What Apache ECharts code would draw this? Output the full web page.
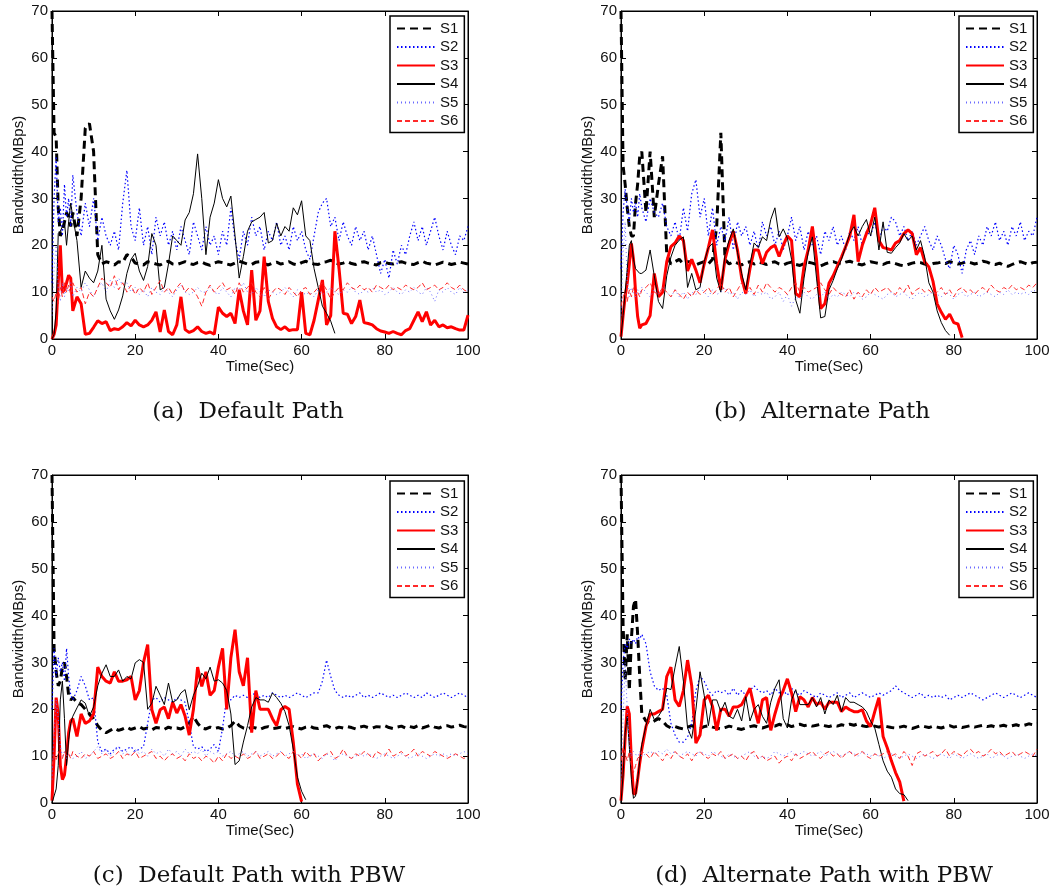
<!DOCTYPE html>
<html>
<head>
<meta charset="utf-8">
<script src="https://cdn.jsdelivr.net/npm/echarts@6/dist/echarts.min.js"></script>
<style>
  html, body { margin: 0; padding: 0; background: #fff; }
  #chart { width: 1056px; height: 896px; }
</style>
</head>
<body>
<div id="chart"></div>
<script>
// sample times (sec): half-second steps up to 5 s, then one per second
const T = [0, 0.5, 1, 1.5, 2, 2.5, 3, 3.5, 4, 4.5, 5,
  6, 7, 8, 9, 10, 11, 12, 13, 14, 15,
  16, 17, 18, 19, 20, 21, 22, 23, 24, 25,
  26, 27, 28, 29, 30, 31, 32, 33, 34, 35,
  36, 37, 38, 39, 40, 41, 42, 43, 44, 45,
  46, 47, 48, 49, 50, 51, 52, 53, 54, 55,
  56, 57, 58, 59, 60, 61, 62, 63, 64, 65,
  66, 67, 68, 69, 70, 71, 72, 73, 74, 75,
  76, 77, 78, 79, 80, 81, 82, 83, 84, 85,
  86, 87, 88, 89, 90, 91, 92, 93, 94, 95,
  96, 97, 98, 99, 100];

const seriesNames = ['S1', 'S2', 'S3', 'S4', 'S5', 'S6'];
const xTicks = [0, 20, 40, 60, 80, 100];
const yTicks = [0, 10, 20, 30, 40, 50, 60, 70];

// ---- (a) Default Path ----
const A_S1 = [70, 44, 43, 28, 22, 23, 25, 27, 26, 24, 27,
  22, 30, 45, 46, 40, 18, 16, 16.5, 16.2, 15.8,
  16.5, 16.3, 18, 17.5, 16.2, 16, 15.8, 16.5, 16.3, 16,
  15.8, 16.3, 16.6, 16, 15.9, 16.2, 16.5, 16.1, 15.9, 16.3,
  16.4, 16, 15.7, 16.2, 16.5, 16.3, 16, 15.8, 16.2, 16.6,
  16.3, 16, 15.9, 16.4, 16.5, 16.1, 15.8, 16.2, 16.4, 16,
  16.2, 16.5, 16, 15.8, 16.3, 16.6, 16.2, 16, 15.9, 16.4,
  16.5, 16.8, 16.3, 16, 16.2, 16.5, 16.1, 15.9, 16.3, 16.5,
  16.2, 16, 15.8, 16.3, 16.4, 16.1, 16, 16.3, 16.5, 16.2,
  16, 15.9, 16.3, 16.6, 16.2, 16, 15.8, 16.1, 16.4, 16.2,
  15.9, 16.1, 16.4, 16.2, 16];
const A_S2 = [12, 30, 39, 25, 28, 22, 33, 26, 30, 24, 35,
  27, 22, 29, 24, 30, 21, 26, 22, 20, 23,
  19, 29, 36, 24, 21, 28, 20, 24, 18, 26,
  22, 25, 20, 23, 19, 24, 21, 18, 25, 22,
  19, 24, 20, 22, 18, 23, 20, 28, 21, 17,
  23, 20, 26, 22, 24, 19, 23, 21, 25, 20,
  22, 19, 24, 21, 23, 19, 17, 22, 27, 29,
  30, 24, 26, 21, 25, 22, 20, 24, 21, 23,
  19, 22, 18, 14, 17, 13, 19, 16, 20, 18,
  22, 25, 21, 24, 20, 23, 26, 22, 19, 23,
  20, 18, 22, 21, 24];
const A_S3 = [0, 1, 3, 12, 20, 10, 10.5, 12, 13.6, 13, 6,
  9, 7.5, 1, 1.2, 2.5, 3.9, 3.3, 3.7, 1.8, 2.2,
  2, 2.6, 3.5, 2.8, 4, 3, 2.6, 3, 4, 5.8,
  1.5, 6.2, 1.6, 0.9, 3, 9, 2, 1.4, 1.8, 2.6,
  1.6, 1.2, 1.5, 1, 6.8, 5.5, 4.8, 5.5, 3.3, 10.5,
  6, 3, 14.7, 4, 6, 17.6, 8, 4.4, 2.6, 2,
  2.6, 1.8, 2, 2, 10, 1.2, 0.9, 4, 8.3, 12.6,
  3, 5, 23, 15, 5.5, 5.3, 3.3, 4.8, 8.3, 3.5,
  3.3, 3, 2.2, 1.7, 1.5, 1.2, 1.6, 1.2, 0.9, 1.8,
  2.2, 4, 5.8, 3.7, 5.8, 3, 4, 2.6, 3, 2.4,
  2.6, 2.2, 1.9, 1.9, 5.1];
const A_S4 = [0, 1, 6, 22.5, 23, 24, 25, 20, 25, 29, 26,
  21, 11, 14.5, 13, 12, 14.5, 20, 8.5, 6, 4.2,
  6.2, 9.2, 14, 17, 18.3, 14.5, 12.5, 15.5, 22.5, 20,
  10.5, 11, 16, 22, 21, 20, 25.4, 27, 31, 39.5,
  30, 18, 26, 29, 34, 30, 28.2, 30.5, 22, 13,
  17.6, 23, 25, 25.5, 26, 27, 20.5, 21, 24.7, 22,
  24, 23, 28, 26.5, 29.5, 22, 21, 15, 11, 7,
  5.5, 3.8, 1.2];
const A_S5 = [5, 15, 20, 11, 8, 12, 9, 11, 10, 12, 9,
  11, 10, 12, 10.5, 9, 11, 12, 10, 12.5, 11,
  13, 11.5, 12, 10, 11, 9.5, 10.5, 9, 11, 10,
  9.5, 11, 10, 9, 10.5, 11.5, 10, 9.5, 10, 11,
  10, 10, 11, 10, 9.5, 11, 10, 9, 11, 10.5,
  12, 10, 9.5, 11, 10, 9, 10.5, 10, 9.5, 10,
  11, 10, 9, 10.5, 10, 9.5, 10, 9, 10.5, 9.5,
  10, 11, 10, 9.5, 10.5, 10, 11, 10, 9.5, 10.5,
  10, 11, 10, 10.5, 9.5, 10, 11, 10, 9.5, 10.5,
  10, 11, 10, 9.5, 11, 10, 8, 10.5, 10, 11,
  10, 9.5, 11, 10, 10.5];
const A_S6 = [9, 8, 10, 7.5, 11, 9, 12, 10, 11.5, 9.5, 12,
  10, 11, 7.5, 10, 9, 11, 13, 12, 11, 13.5,
  10.5, 12, 10, 11.5, 9.5, 11, 10, 12, 9.5, 11,
  12.5, 10, 11, 9.5, 11, 12, 10, 11, 10.5, 9,
  7, 10, 11.5, 10, 11, 12, 10.5, 11, 9.5, 12,
  10, 11, 12, 10, 9, 11, 8.5, 10, 11, 10.5,
  9.5, 11, 10, 9, 10.5, 11, 9.5, 10, 11, 12,
  10.5, 8.5, 10, 11, 10.5, 12, 11, 10.5, 11.5, 10.5,
  11, 10, 11.5, 11, 10.5, 11.5, 10.5, 11, 10.5, 11.5,
  11, 10.5, 11, 12, 10.5, 11, 11.5, 10.5, 11, 12,
  11, 10.5, 11.5, 10.5, 10];

// ---- (b) Alternate Path ----
const B_S1 = [70, 37, 33, 28, 24, 22, 22, 29, 33, 39, 40,
  27, 40, 26, 33, 39, 18, 16, 16.5, 17, 16,
  16.5, 16.5, 15.8, 16.2, 16.5, 16, 17, 24, 44, 17,
  16, 16.5, 16.2, 15.8, 16.3, 16.5, 16, 16.4, 16.2, 15.9,
  16.3, 16.5, 16, 15.8, 16.2, 16.4, 15.9, 15.7, 16.1, 16.4,
  16.2, 15.9, 15.6, 16, 16.3, 16.5, 16.2, 16, 16.4, 16.6,
  16.3, 16, 15.8, 16.2, 16.5, 16.3, 16.1, 15.9, 16.3, 16.4,
  16.1, 15.8, 15.6, 15.9, 16.2, 16.4, 16.3, 16, 15.8, 16.1,
  16.2, 16.4, 16.1, 16.5, 16.3, 16, 16.2, 16.5, 16.3, 16,
  16.2, 16.6, 16.4, 16, 15.9, 16.2, 15.7, 15.5, 15.9, 16.3,
  16.5, 16.2, 15.9, 16.3, 16.4];
const B_S2 = [15, 27, 32, 28, 25, 30, 27, 29, 26, 31, 28,
  25, 30, 27, 26, 29, 24, 22, 25, 21, 28,
  23, 31, 34, 26, 30, 22, 28, 20, 24, 21,
  26, 19, 25, 22, 24, 20, 23, 19, 25, 22,
  24, 20, 23, 19, 22, 26, 21, 24, 19, 23,
  20, 22, 18, 23, 21, 24, 20, 22, 19, 23,
  21, 24, 20, 23, 22, 25, 21, 24, 23, 26,
  25, 22, 24, 21, 23, 20, 22, 24, 21, 19,
  22, 20, 17, 15, 20, 18, 14, 19, 21, 18,
  22, 20, 24, 22, 25, 21, 23, 20, 24, 22,
  25, 21, 23, 22, 26];
const B_S3 = [0.5, 5, 9, 12, 16, 20.4, 17, 10, 4.8, 2.3, 3,
  3.3, 5, 14, 9, 10, 16.5, 19.7, 20.5, 22, 21,
  14.5, 17, 14.7, 12, 16, 19.5, 23.3, 16, 10.5, 17,
  20.4, 23, 19, 13, 9.7, 15, 19, 19, 16.1, 18.5,
  19.5, 20, 17.6, 20, 22, 21, 9.7, 9, 15.5, 19,
  24, 17, 6.5, 7.5, 11.9, 13.5, 15.5, 17.5, 19.7, 22,
  26.5, 16.5, 20, 22.5, 24.5, 28, 21, 19.5, 19.3, 19,
  20.5, 21, 22.5, 23.3, 22.5, 18, 19.5, 16.5, 15.4, 12.3,
  7.5, 5.7, 4.2, 5.3, 3.5, 3.2, 0.3];
const B_S4 = [0.5, 5, 10, 15, 20, 21, 17, 15, 14.5, 14, 14,
  14.7, 19, 13.5, 8, 6.5, 13.5, 17.5, 20, 21.1, 21.8,
  11, 14, 10.5, 11, 16.5, 19.5, 20.4, 13, 10, 18,
  21.1, 23.5, 18.5, 14, 10.5, 16, 20.5, 19.5, 21.8, 21,
  25.5, 28, 21.8, 23.5, 21.5, 17, 8.3, 5.5, 13, 18.5,
  21.8, 13, 4.5, 4.8, 10.5, 12.5, 15, 17, 19.7, 22.5,
  24, 22, 24, 25.5, 22, 26, 19, 25, 18.5, 18.3,
  19.5, 20.5, 22.5, 21, 22, 19, 21, 17.5, 12, 10,
  6, 3.5, 1.8, 0.8];
const B_S5 = [5, 18, 25, 12, 9, 11, 10, 9, 10.5, 9.5, 11,
  10, 9, 10.5, 9.5, 11, 10, 9, 10.5, 9, 10,
  8.5, 10, 9.5, 11, 10, 9, 10.5, 9.5, 10, 11,
  9.5, 10, 8.5, 10, 9.5, 10.5, 9, 10, 9.5, 10,
  8.5, 9, 10, 8, 9.5, 7, 9, 8.5, 10, 9,
  8.5, 9.5, 9, 10, 8.5, 9.5, 9, 10, 9.5, 9,
  10, 9.5, 8.5, 9, 10, 9.5, 9, 8.5, 9.5, 10,
  9, 9.5, 10, 9, 8.5, 9.5, 10, 9, 9.5, 10,
  9.5, 9, 10, 9.5, 8.5, 9.5, 10, 9, 9.5, 10,
  9, 9.5, 10, 9.5, 9, 10, 9.5, 10.5, 9.5, 10,
  9.5, 10, 9.5, 10.5, 10];
const B_S6 = [7, 9, 10, 8, 10.5, 9, 11, 9.5, 10, 9, 10.5,
  11, 12, 10, 9.5, 11, 10, 9, 10.5, 9.5, 8.5,
  10, 9, 10.5, 9.5, 10, 11, 9.5, 10.5, 12, 10,
  11, 9, 10.5, 12, 10, 11, 9.5, 11.5, 10, 12,
  11, 10, 11, 10.5, 9.5, 11, 12, 10, 11, 10,
  10.5, 11, 12, 10.5, 9.5, 11, 10, 9.5, 9, 10.5,
  8.5, 10, 9, 10.5, 9.5, 11, 10, 10.5, 11, 10,
  9.5, 11, 10, 11.5, 9.5, 10.5, 11, 10, 10.5, 9.5,
  10, 11, 9.5, 10.5, 9, 10.5, 11, 10, 10.5, 9.5,
  10.5, 11, 10, 11.5, 10.5, 10, 11, 10.5, 11.5, 10.5,
  11, 10.5, 11.5, 11, 12];

// ---- (c) Default Path with PBW ----
const C_S1 = [70, 33, 28, 25, 26, 29, 30, 27, 23, 22, 22.5,
  21.5, 21, 20, 19, 18, 16.5, 15.5, 15, 15.5, 16,
  15.5, 15.8, 16.2, 15.7, 16, 16.3, 15.8, 16, 15.6, 16.1,
  16, 15.7, 16.2, 15.9, 16, 15.8, 16.3, 17, 18.5, 17,
  16, 15.8, 16.2, 15.9, 16.1, 15.8, 16, 16.5, 17.5, 16.5,
  16, 15.8, 16.2, 16, 15.7, 16.1, 16.3, 15.9, 16, 16.2,
  15.9, 16.1, 16.3, 16, 15.8, 16.2, 16.4, 16, 15.9, 16.3,
  16.5, 16.1, 15.9, 16.2, 16, 16.3, 16.1, 15.8, 16.2, 16.4,
  16.1, 16, 16.3, 16.2, 16.5, 16.1, 15.9, 16.2, 16.4, 16,
  16.3, 16.1, 16.5, 16, 16.3, 16.6, 16.2, 16, 16.4, 16.5,
  16.2, 16.4, 16.6, 16.3, 16.2];
const C_S2 = [20, 33, 27, 31, 28, 30, 26, 33, 27, 23, 22,
  24, 27, 25, 22, 22.5, 13, 11, 11.5, 10.5, 11.5,
  12, 11, 11.5, 12, 11, 11.5, 12, 17, 22, 22.5,
  21.5, 22.5, 22, 21.5, 22.5, 22, 21.5, 17, 12, 11.5,
  12, 11, 11.5, 12.5, 11, 16, 22.5, 22, 23, 22.5,
  23, 22.5, 23, 23.5, 22.5, 23, 22.5, 23.5, 23, 22.5,
  23, 22.5, 23, 23.5, 23, 22.5, 23, 23.5, 23.5, 26,
  30.5, 27, 24, 23, 22.5, 23, 22.5, 23, 23.5, 22.5,
  23, 22.5, 23, 23.5, 23, 22.5, 23, 22.5, 23, 23.5,
  23, 22.5, 23, 22.5, 23.5, 23, 22.5, 23, 23.5, 23,
  22.5, 23, 23.5, 23, 22.5];
const C_S3 = [0.5, 10, 22.5, 19, 8, 5, 6, 10, 15, 17.5, 18,
  14.2, 19, 17, 17.5, 19, 29, 27, 26, 25.6, 28,
  26, 26, 26.3, 27, 22, 24, 30, 33.8, 19.9, 17,
  19.9, 20.5, 18, 21.5, 19.2, 21, 18.5, 14.5, 20, 29,
  24.9, 28, 23, 24, 29, 33, 20, 31, 37, 28,
  25, 31, 15, 24, 20, 20, 20, 18, 16.5, 19.9,
  20.6, 20, 13, 4, 0.3];
const C_S4 = [0, 1.5, 3, 8, 22, 26, 18, 8, 13.5, 17, 18.5,
  20.3, 22, 21.3, 18.5, 20.5, 25, 27.7, 29.5, 27, 27,
  28.4, 26, 27, 26.5, 29.9, 30.6, 30, 20, 21.3, 24.9,
  23, 21, 25.6, 21.5, 22, 23.5, 24.2, 19.9, 23, 25,
  27.7, 26.5, 29, 26, 26.3, 25.6, 24, 19, 8.2, 9,
  13, 16.5, 20.5, 22.5, 22, 22, 21.5, 23.5, 22.5, 21.3,
  19.5, 16.5, 11.5, 5.5, 2.5, 0.7];
const C_S5 = [5, 15, 22, 18, 12, 10, 11, 9.5, 10.5, 10, 9.5,
  10, 11, 9.5, 10, 11, 12, 10.5, 11.5, 10, 11,
  12, 10.5, 11, 10, 11.5, 10.5, 11, 10, 11.5, 10.5,
  11, 10, 11.5, 10.5, 11, 10, 11.5, 10.5, 11, 10.5,
  11.5, 10, 11, 10.5, 11, 10, 10.5, 11, 10, 10.5,
  11, 10, 10.5, 11, 10, 10.5, 11, 10, 10.5, 11,
  10, 10.5, 11, 10, 10.5, 9.5, 10, 10.5, 10, 9.5,
  10.5, 10, 9, 10, 10.5, 10, 9.5, 10, 10.5, 10,
  10.5, 10, 9.5, 10, 10.5, 10, 9.5, 10, 10.5, 10,
  9.5, 10, 10.5, 10, 9.5, 10, 10.5, 10, 10.5, 10,
  10.5, 10, 10.5, 11, 10.5];
const C_S6 = [8, 10, 9, 11, 10, 9.5, 11, 10, 10.5, 9.5, 11,
  10, 9.5, 10.5, 10, 11, 9.5, 10, 10.5, 9.5, 10,
  11, 9.5, 10.5, 10, 11, 9.5, 10, 10.5, 11, 9.5,
  10, 9, 10, 10.5, 9.5, 10, 9, 10.5, 9.5, 10,
  9, 10, 9.5, 8.5, 10, 9, 10.5, 9.5, 10, 9.5,
  10.5, 9.5, 10, 11, 9.5, 10, 10.5, 9.5, 10, 11,
  10, 9.5, 11, 10.5, 9.5, 11, 10, 10.5, 9, 10,
  10.5, 11, 9.5, 10, 11.5, 10, 9.5, 10.5, 10, 11,
  10.5, 9.5, 11, 10.5, 10, 11.5, 10, 10.5, 11, 10,
  10.5, 11.5, 10, 11, 10.5, 10, 11, 10.5, 10, 9.5,
  10, 10.5, 10, 9.5, 10];

// ---- (d) Alternate Path with PBW ----
const D_S1 = [70, 38, 26, 36, 24, 35, 42, 43.5, 36, 27, 19,
  17.5, 17, 17.5, 18, 17.5, 16.5, 16, 16.3, 16, 15.8,
  16.2, 16.5, 16.1, 15.9, 16.3, 16.5, 16.2, 16, 15.8, 16.1,
  16.4, 16.2, 15.9, 15.7, 16, 16.3, 16.5, 16.2, 16, 16.3,
  16.6, 16.4, 16.8, 16.5, 16.7, 16.3, 16.6, 16.8, 16.5, 16.7,
  16.4, 16.6, 16.8, 16.5, 16.3, 16.6, 16.4, 16.7, 16.5, 16.8,
  16.6, 16.9, 16.5, 16.3, 16.6, 16.4, 16.2, 16.5, 16.3, 16.1,
  16, 16.2, 16.4, 16.1, 15.9, 16.2, 16.5, 16.3, 16.1, 16.4,
  16.2, 16, 16.3, 16.5, 16.2, 16.4, 16.1, 16.3, 16.5, 16.2,
  16.4, 16.6, 16.3, 16.5, 16.2, 16.4, 16.6, 16.3, 16.5, 16.7,
  16.4, 16.6, 16.9, 16.7, 17];
const D_S2 = [20, 30, 34, 33, 35, 34, 35, 34, 35.5, 35, 36,
  34, 28, 25, 24, 24.5, 23, 17, 14.5, 13, 13,
  14, 17, 24, 27, 26, 24, 23, 24, 23.5, 24,
  23, 24.5, 23, 24, 23, 24, 25, 24, 23.5, 24,
  23, 24.5, 23.5, 24, 23, 24.5, 23.5, 23, 24, 23.5,
  23, 22.5, 23.5, 23, 22.5, 23, 23.5, 22.5, 23, 23.5,
  22.5, 23, 23.5, 23, 22.5, 23, 23.5, 23, 23.5, 24,
  25, 24, 23.5, 23, 22.5, 23, 23.5, 22.5, 23, 22.5,
  23, 22.5, 23, 22, 22.5, 23, 22.5, 23, 23.5, 23,
  22.5, 22, 22.5, 23, 23.5, 23, 22.5, 23, 23.5, 23,
  22.5, 23, 23.5, 23, 22.5];
const D_S3 = [0.5, 6, 14, 20.6, 19, 9, 2, 2, 5, 8.5, 11.5,
  16.3, 19, 19, 19.5, 20, 27, 29, 22, 20.6, 24,
  30.5, 25, 12.8, 14.5, 22, 23, 20.6, 15.5, 20, 20,
  18.5, 20.5, 20.5, 21, 22.7, 24.5, 20.5, 17, 22, 22.5,
  15.5, 19, 22, 24, 26.5, 23.5, 19.5, 22.7, 22, 20.5,
  22.5, 21, 21.5, 20, 21.5, 21.5, 21.5, 19.5, 20.5, 19.9,
  19.5, 19.5, 19.9, 17.5, 16.3, 19.5, 22.5, 14.2, 11.8, 9,
  6.5, 4.5, 0.4];
const D_S4 = [0, 6, 15, 18.5, 12, 5, 1, 1.5, 5, 9, 12.5,
  16.5, 20, 17.8, 18.5, 20, 24.5, 24.2, 29, 33.4, 26,
  16, 13.8, 19.9, 28, 23, 16.5, 22, 22, 19.5, 21.5,
  18.5, 18, 20, 17.5, 22.7, 17.5, 20, 21, 18.5, 17,
  21.5, 24.5, 26.3, 18, 16, 22, 24.2, 21, 21, 21,
  22.5, 20.5, 22.5, 19, 22, 21, 23, 19.5, 22.5, 21.5,
  21.5, 21, 20.5, 19.5, 17.5, 16, 12.5, 9, 6.8, 5.5,
  3, 2, 1.8, 0.5];
const D_S5 = [5, 18, 30, 20, 12, 10, 11, 10.5, 9.5, 11, 10,
  10.5, 11, 10.5, 11, 10.5, 11.5, 10.5, 11, 10, 10.5,
  11, 10.5, 10, 11, 10.5, 10, 11, 10.5, 10, 9.5,
  10.5, 10, 9.5, 10, 10.5, 11, 10, 9.5, 10, 9.5,
  10, 11, 10.5, 10, 10.5, 11, 10, 10.5, 11, 10.5,
  10, 10.5, 11, 10, 10.5, 11, 10.5, 10, 10.5, 11,
  10.5, 10, 11, 10.5, 10, 10.5, 10, 9.5, 10, 10.5,
  10, 9.5, 10, 10.5, 10, 9.5, 10, 10.5, 10, 9.5,
  10, 10.5, 10, 9.5, 10.5, 10, 9.5, 10, 10.5, 10,
  9.5, 10, 10.5, 9.5, 10, 10.5, 10, 9.5, 10, 10.5,
  10, 9.5, 10, 10.5, 10];
const D_S6 = [9, 12, 10.5, 9, 11, 8, 6.5, 8, 9.5, 10, 11,
  10.5, 9.5, 11, 10, 9, 10.5, 9.5, 11, 10, 9.5,
  10.5, 9, 10.5, 11, 10, 9.5, 10.5, 10, 11, 9.5,
  10, 10.5, 9.5, 10, 9, 10.5, 11, 9.5, 10, 9,
  9.5, 10, 8.5, 9.5, 10, 9, 10.5, 9.5, 10, 10.5,
  11, 10, 9.5, 10.5, 11, 10, 10.5, 9.5, 10.5, 11,
  10, 10.5, 11, 10, 9.5, 10.5, 10, 10.5, 11, 10,
  10.5, 9.5, 11, 10, 8, 10.5, 11, 10, 10.5, 11,
  10, 10.5, 11.5, 10, 11, 10.5, 10, 11, 11.5, 10.5,
  11, 10, 10.5, 11.5, 10.5, 11, 10, 10.5, 11, 10,
  10.5, 11, 10.5, 10, 11.5];

const panels = [
  { caption: '(a)  Default Path', data: [A_S1, A_S2, A_S3, A_S4, A_S5, A_S6] },
  { caption: '(b)  Alternate Path', data: [B_S1, B_S2, B_S3, B_S4, B_S5, B_S6] },
  { caption: '(c)  Default Path with PBW', data: [C_S1, C_S2, C_S3, C_S4, C_S5, C_S6] },
  { caption: '(d)  Alternate Path with PBW', data: [D_S1, D_S2, D_S3, D_S4, D_S5, D_S6] },
];

// page layout of each sub-figure
const layout = [
  { left: 52, top: 11, legLeft: 390, legTop: 16, capX: 248, capY: 412 },
  { left: 621, top: 11, legLeft: 959, legTop: 16, capX: 822, capY: 412 },
  { left: 52, top: 475, legLeft: 390, legTop: 481, capX: 249, capY: 876 },
  { left: 621, top: 475, legLeft: 959, legTop: 481, capX: 824, capY: 876 },
];

// line look of S1..S6 (MATLAB styles)
const styles = [
  { color: '#000000', width: 3, type: [8, 5] },
  { color: '#0000ff', width: 1.2, type: [1.5, 2.5] },
  { color: '#ff0000', width: 3, type: 'solid' },
  { color: '#000000', width: 1, type: 'solid' },
  { color: '#6a6aff', width: 1, type: [1, 3] },
  { color: '#ff2a2a', width: 1, type: [5, 3] },
];

const font = { fontFamily: 'Liberation Sans', fontSize: 15, color: '#111' };

const grid = [], xAxis = [], yAxis = [], series = [], legend = [], graphic = [];

panels.forEach((p, i) => {
  const L = layout[i];
  grid.push({
    left: L.left, top: L.top, width: 416, height: 328,
    show: true, borderColor: '#000', borderWidth: 1, backgroundColor: '#fff'
  });
  const tick = { inside: true, length: 5, lineStyle: { color: '#000', width: 1 } };
  const line = { onZero: false, lineStyle: { color: '#000', width: 1 } };
  xAxis.push({
    gridIndex: i, type: 'value', min: xTicks[0], max: xTicks[xTicks.length - 1], interval: 20,
    position: 'bottom', axisLine: line, axisTick: tick,
    axisLabel: Object.assign({ margin: 4 }, font),
    splitLine: { show: false },
    name: 'Time(Sec)', nameLocation: 'middle', nameGap: 19, nameTextStyle: font
  });
  xAxis.push({
    gridIndex: i, type: 'value', min: xTicks[0], max: xTicks[xTicks.length - 1], interval: 20,
    position: 'top', axisLine: line, axisTick: tick,
    axisLabel: { show: false }, splitLine: { show: false }
  });
  yAxis.push({
    gridIndex: i, type: 'value', min: yTicks[0], max: yTicks[yTicks.length - 1], interval: 10,
    position: 'left', axisLine: line, axisTick: tick,
    axisLabel: Object.assign({ margin: 4 }, font),
    splitLine: { show: false },
    name: 'Bandwidth(MBps)', nameLocation: 'middle', nameGap: 26, nameTextStyle: font
  });
  yAxis.push({
    gridIndex: i, type: 'value', min: yTicks[0], max: yTicks[yTicks.length - 1], interval: 10,
    position: 'right', axisLine: line, axisTick: tick,
    axisLabel: { show: false }, splitLine: { show: false }
  });

  p.data.forEach((vals, k) => {
    const st = styles[k];
    series.push({
      type: 'line',
      name: seriesNames[k],
      xAxisIndex: i * 2,
      yAxisIndex: i * 2,
      data: vals.map((v, j) => [T[j], v]),
      symbol: 'none',
      showSymbol: false,
      animation: false,
      silent: true,
      lineStyle: { color: st.color, width: st.width, type: st.type },
      itemStyle: { color: st.color },
      emphasis: { disabled: true }
    });
  });

  legend.push({
    orient: 'vertical', left: L.legLeft, top: L.legTop,
    data: seriesNames,
    itemWidth: 38, itemHeight: 14, itemGap: 3.5,
    padding: [5, 6, 4, 6],
    borderColor: '#000', borderWidth: 1.5, backgroundColor: '#fff',
    selectedMode: false,
    itemStyle: { opacity: 0 },
    textStyle: { fontFamily: 'Liberation Sans', fontSize: 15, color: '#111' }
  });

  graphic.push({
    type: 'text', x: L.capX, y: L.capY,
    style: {
      text: p.caption, fill: '#111',
      font: '23px "DejaVu Serif"',
      align: 'center', verticalAlign: 'middle',
      textAlign: 'center', textVerticalAlign: 'middle'
    }
  });
});

const chart = echarts.init(document.getElementById('chart'));
chart.setOption({
  backgroundColor: '#ffffff',
  animation: false,
  grid, xAxis, yAxis, series, legend, graphic
});
</script>
</body>
</html>
